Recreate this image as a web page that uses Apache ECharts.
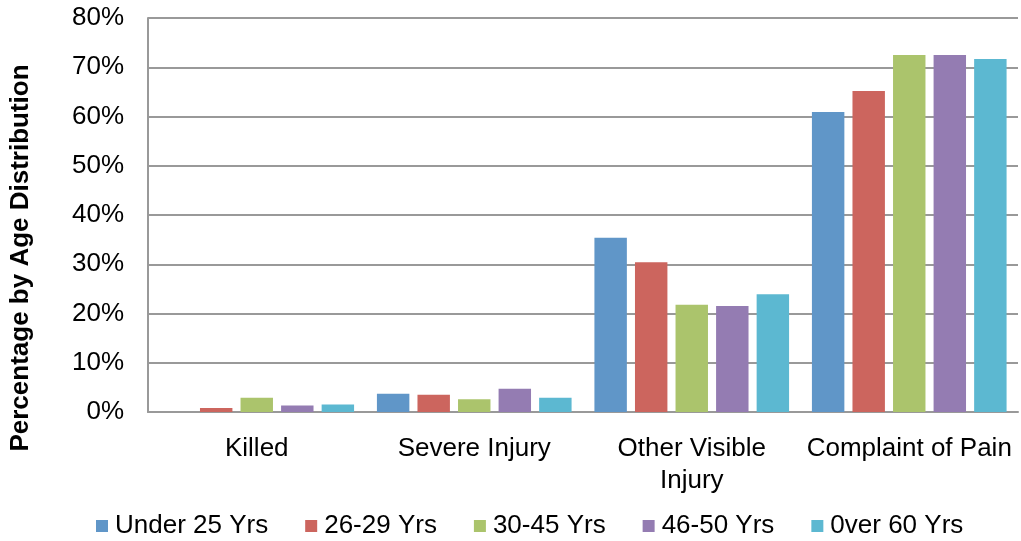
<!DOCTYPE html>
<html>
<head>
<meta charset="utf-8">
<script src="https://cdn.jsdelivr.net/npm/echarts@6/dist/echarts.min.js"></script>
<style>
  html, body { margin: 0; padding: 0; background: #fff; }
  #chart { width: 1021px; height: 541px; }
</style>
</head>
<body>
<div id="chart"></div>
<script>
const categories = ["Killed", "Severe Injury", "Other Visible\nInjury", "Complaint of Pain"];
const seriesNames = ["Under 25 Yrs", "26-29 Yrs", "30-45 Yrs", "46-50 Yrs", "0ver 60 Yrs"];
const under25 = [0, 3.7, 35.4, 60.9];
const age26to29 = [0.8, 3.5, 30.4, 65.2];
const age30to45 = [2.9, 2.6, 21.8, 72.5];
const age46to50 = [1.3, 4.7, 21.5, 72.5];
const over60 = [1.5, 2.9, 23.9, 71.7];
const colors = ["#6096C8", "#CC655E", "#ABC46C", "#947CB2", "#5CB8D1"];

const values = [under25, age26to29, age30to45, age46to50, over60];
const font = "Liberation Sans, Arial, sans-serif";

const chart = echarts.init(document.getElementById("chart"));

chart.setOption({
  animation: false,
  grid: { left: 147, right: 3, top: 18, bottom: 129 },
  legend: {
    top: 513,
    left: 96,
    padding: 0,
    itemWidth: 12,
    itemHeight: 12,
    itemGap: 37,
    icon: "rect",
    textStyle: { fontFamily: font, fontSize: 26, color: "#000", padding: [0, 0, 0, 2] },
    data: seriesNames
  },
  xAxis: {
    type: "category",
    data: categories,
    axisLine: { lineStyle: { color: "#999", width: 2 } },
    axisTick: { show: false },
    axisLabel: { interval: 0, fontFamily: font, fontSize: 26, color: "#000", margin: 21, lineHeight: 32 }
  },
  yAxis: {
    type: "value",
    min: 0,
    max: 80,
    interval: 10,
    name: "Percentage by Age Distribution",
    nameLocation: "middle",
    nameGap: 114,
    nameTextStyle: { fontFamily: font, fontSize: 26, fontWeight: "bold", color: "#000", padding: [0, 86, 0, 0] },
    axisLine: { show: true, lineStyle: { color: "#999", width: 2 } },
    axisTick: { show: false },
    axisLabel: { formatter: "{value}%", fontFamily: font, fontSize: 26, color: "#000", margin: 24 },
    splitLine: { lineStyle: { color: "#999", width: 2 } }
  },
  series: seriesNames.map((name, i) => ({
    name: name,
    type: "bar",
    data: values[i],
    barGap: "25%",
    barCategoryGap: "10.5%",
    itemStyle: { color: colors[i] }
  }))
});
</script>
</body>
</html>
